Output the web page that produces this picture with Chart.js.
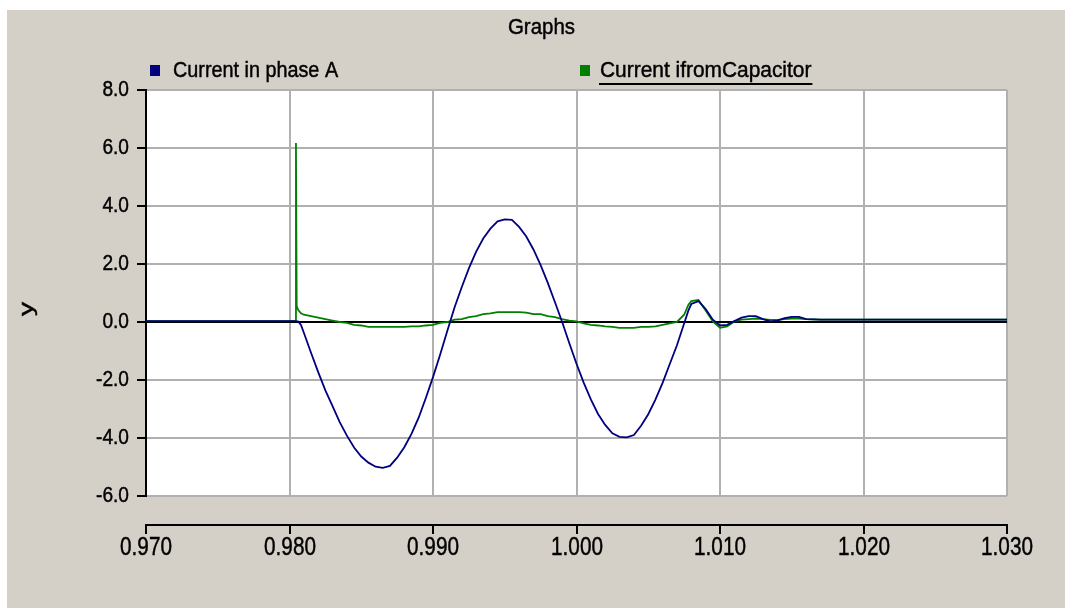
<!DOCTYPE html>
<html>
<head>
<meta charset="utf-8">
<title>Graphs</title>
<script src="https://cdn.jsdelivr.net/npm/chart.js@4.4.1/dist/chart.umd.min.js"></script>
<style>
  html, body { margin: 0; padding: 0; background: #ffffff; }
  #panel { position: absolute; left: 7px; top: 10px; width: 1058px; height: 598px; background: #d4d0c8; }
  canvas { display: block; }
</style>
</head>
<body>
<div id="panel"><canvas id="graph" width="1058" height="598"></canvas></div>
<script>
const FONT = "'Liberation Sans', Arial, sans-serif";

const chartTitle = 'Graphs';
const yAxisTitle = 'y';
const seriesNames = ['Current in phase A', 'Current ifromCapacitor'];
const seriesColors = ['#000080', '#008000'];

// sample times (s)
const times = [
  0.9700, 0.9750, 0.9800, 0.98040, 0.98045, 0.98050, 0.9806, 0.9808, 0.9810, 0.9815,
  0.9820, 0.9825, 0.9830, 0.9835, 0.9840, 0.9845, 0.9850, 0.9855, 0.9860, 0.9865,
  0.9870, 0.9875, 0.9880, 0.9885, 0.9890, 0.9895, 0.9900, 0.9905, 0.9910, 0.9915,
  0.9920, 0.9925, 0.9930, 0.9935, 0.9940, 0.9945, 0.9950, 0.9955, 0.9960, 0.9965,
  0.9970, 0.9975, 0.9980, 0.9985, 0.9990, 0.9995, 1.0000, 1.0005, 1.0010, 1.0015,
  1.0020, 1.0025, 1.0030, 1.0035, 1.0040, 1.0045, 1.0050, 1.0055, 1.0060, 1.0065,
  1.0070, 1.0075, 1.0078, 1.0080, 1.0085, 1.0090, 1.0095, 1.0100, 1.0105, 1.0110,
  1.0115, 1.0120, 1.0125, 1.0130, 1.0135, 1.0140, 1.0145, 1.0150, 1.0155, 1.0160,
  1.0170, 1.0200, 1.0250, 1.0300
];

// phase A current
const currentPhaseA = [
  0.03, 0.03, 0.03, 0.03, 0.03, 0.02, 0.02, -0.10, -0.37, -1.06,
  -1.73, -2.36, -2.90, -3.45, -3.92, -4.33, -4.64, -4.85, -4.99, -5.03,
  -4.96, -4.68, -4.32, -3.86, -3.30, -2.62, -1.90, -1.12, -0.30, 0.50,
  1.20, 1.85, 2.42, 2.88, 3.22, 3.47, 3.54, 3.52, 3.28, 2.95,
  2.50, 1.96, 1.35, 0.68, 0.00, -0.73, -1.44, -2.09, -2.67, -3.17,
  -3.55, -3.84, -3.96, -3.98, -3.90, -3.58, -3.18, -2.68, -2.10, -1.45,
  -0.80, -0.05, 0.40, 0.62, 0.72, 0.45, 0.08, -0.12, -0.10, 0.03,
  0.15, 0.20, 0.20, 0.10, 0.02, 0.05, 0.13, 0.18, 0.18, 0.10,
  0.08, 0.08, 0.08, 0.08
];

// capacitor current
const currentCapacitor = [
  0.03, 0.03, 0.03, 0.03, 6.17, 0.55, 0.42, 0.30, 0.25, 0.20,
  0.15, 0.10, 0.05, 0.00, -0.03, -0.10, -0.12, -0.17, -0.17, -0.17,
  -0.17, -0.17, -0.17, -0.15, -0.15, -0.12, -0.10, -0.03, 0.00, 0.08,
  0.10, 0.17, 0.20, 0.27, 0.30, 0.34, 0.34, 0.34, 0.34, 0.32,
  0.27, 0.27, 0.20, 0.17, 0.10, 0.05, 0.02, -0.05, -0.10, -0.12,
  -0.15, -0.17, -0.20, -0.20, -0.20, -0.17, -0.17, -0.15, -0.10, -0.05,
  0.00, 0.25, 0.60, 0.72, 0.76, 0.40, 0.02, -0.20, -0.15, 0.02,
  0.08, 0.10, 0.12, 0.10, 0.07, 0.07, 0.10, 0.12, 0.12, 0.10,
  0.08, 0.08, 0.08, 0.08
];

const xTickValues = [0.970, 0.980, 0.990, 1.000, 1.010, 1.020, 1.030];
const xTickLabels = ['0.970', '0.980', '0.990', '1.000', '1.010', '1.020', '1.030'];
const yTickValues = [-6, -4, -2, 0, 2, 4, 6, 8];
const yTickLabels = ['-6.0', '-4.0', '-2.0', '0.0', '2.0', '4.0', '6.0', '8.0'];

const seriesValues = [currentPhaseA, currentCapacitor];

// text squeezed horizontally and slightly heavier, like the GUI face of the original tool
function narrowText(ctx, text, x, y, size, sx, align) {
  ctx.save();
  ctx.translate(x, y);
  ctx.scale(sx, 1);
  ctx.font = `${size}px ${FONT}`;
  ctx.textAlign = align;
  ctx.textBaseline = 'middle';
  ctx.strokeStyle = ctx.fillStyle;
  ctx.lineWidth = 0.45;
  ctx.fillText(text, 0, 0);
  ctx.strokeText(text, 0, 0);
  const w = ctx.measureText(text).width * sx;
  ctx.restore();
  return w;
}

// white plot area, title, legend, tick labels, rotated y title and the detached time axis
const decorations = {
  id: 'decorations',
  beforeDraw(chart) {
    const { ctx, chartArea: a } = chart;
    ctx.save();
    ctx.fillStyle = '#ffffff';
    ctx.fillRect(a.left, a.top, a.right - a.left, a.bottom - a.top);
    ctx.restore();
  },
  afterDraw(chart) {
    const { ctx, chartArea: a } = chart;
    const xs = chart.scales.x;
    const ys = chart.scales.y;
    ctx.save();
    ctx.fillStyle = '#000000';

    // title
    narrowText(ctx, chartTitle, 534.5, 18, 22, 0.93, 'center');

    // legend
    const legendY = a.top - 20;
    const legendX = [a.left + 4, a.left + 434];
    const textGap = [23, 20];
    const squeeze = [0.9, 0.95];
    chart.data.datasets.forEach((ds, i) => {
      const x0 = legendX[i];
      ctx.fillStyle = ds.borderColor;
      ctx.fillRect(x0, legendY - 5, 10, 11);
      ctx.fillStyle = '#000000';
      const w = narrowText(ctx, ds.label, x0 + textGap[i], legendY + 0.5, 22, squeeze[i], 'left');
      if (i === 1) {
        ctx.fillRect(x0 + textGap[i] - 1, legendY + 13, w + 2, 2);
      }
    });

    // y tick labels
    ys.ticks.forEach((t, i) => {
      narrowText(ctx, yTickLabels[i], a.left - 17, ys.getPixelForValue(t.value), 22, 0.87, 'right');
    });

    // y axis title, rotated
    ctx.save();
    ctx.translate(20, 299);
    ctx.rotate(-Math.PI / 2);
    narrowText(ctx, yAxisTitle, 0, 0, 20, 1.4, 'center');
    ctx.restore();

    // detached horizontal axis with downward tick marks and its labels
    const axisY = a.bottom + 29;
    ctx.strokeStyle = '#000000';
    ctx.lineWidth = 2;
    ctx.beginPath();
    ctx.moveTo(a.left, axisY);
    ctx.lineTo(a.right, axisY);
    xs.ticks.forEach((t, i) => {
      const px = Math.round(xs.getPixelForValue(t.value));
      ctx.moveTo(px, axisY - 1);
      ctx.lineTo(px, axisY + 9);
      narrowText(ctx, xTickLabels[i], px, a.bottom + 52, 25, 0.83, 'center');
    });
    ctx.strokeStyle = '#000000';
    ctx.lineWidth = 2;
    ctx.stroke();
    ctx.restore();
  }
};

new Chart(document.getElementById('graph'), {
  type: 'line',
  data: {
    datasets: seriesValues.map((vals, i) => ({
      label: seriesNames[i],
      data: times.map((t, k) => ({ x: t, y: vals[k] })),
      borderColor: seriesColors[i],
      backgroundColor: seriesColors[i],
      borderWidth: 1.8,
      pointRadius: 0,
      fill: false,
      tension: 0
    }))
  },
  options: {
    responsive: false,
    animation: false,
    devicePixelRatio: 1,
    layout: { padding: { top: 80, right: 58, bottom: 0, left: 0 } },
    plugins: {
      legend: { display: false },
      tooltip: { enabled: false },
      title: { display: false }
    },
    scales: {
      x: {
        type: 'linear',
        min: 0.970,
        max: 1.030,
        afterFit: s => { s.height = 112; },
        afterBuildTicks: s => { s.ticks = xTickValues.map(v => ({ value: v })); },
        grid: { color: '#b0b0b0', lineWidth: 2, drawTicks: false },
        border: { display: false },
        ticks: { display: false }
      },
      y: {
        type: 'linear',
        min: -6,
        max: 8,
        afterFit: s => { s.width = 139; },
        afterBuildTicks: s => { s.ticks = yTickValues.map(v => ({ value: v })); },
        grid: {
          color: c => (c.tick && c.tick.value === 0 ? '#000000' : '#b0b0b0'),
          lineWidth: 2,
          tickColor: '#000000',
          tickLength: 9
        },
        border: { display: true, color: '#000000', width: 2 },
        ticks: { display: false }
      }
    }
  },
  plugins: [decorations]
});
</script>
</body>
</html>
